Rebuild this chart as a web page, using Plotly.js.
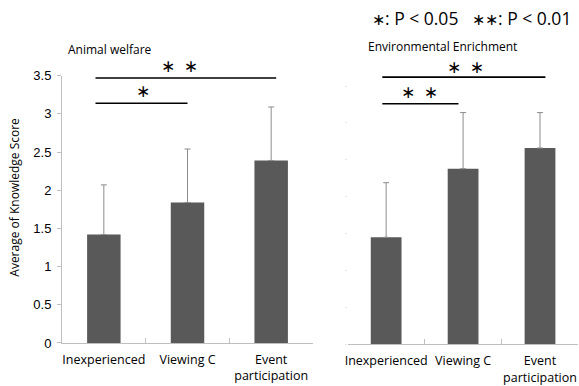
<!DOCTYPE html>
<html><head><meta charset="utf-8">
<script src="https://cdn.plot.ly/plotly-3.0.1.min.js"></script>
<style>html,body{margin:0;padding:0;background:#fff}#c{width:579px;height:386px}</style>
</head><body><div id="c"></div>
<script>
const categories = ['Inexperienced', 'Viewing C', 'Event<br>participation'];
const welfareMean = [1.42, 1.84, 2.39];
const welfareSD = [0.65, 0.70, 0.70];
const enrichMean = [1.45, 2.38, 2.66];
const enrichSD = [0.74, 0.76, 0.48];
const yTicks = [0, 0.5, 1, 1.5, 2, 2.5, 3, 3.5];
const yTickText = ['0', '0.5', '1', '1.5', '2', '2.5', '3', '3.5'];
// significance brackets: [from category idx, to category idx, y level, star label, star x, star y]
const sigWelfare = [[-0.1, 2.06, 3.47, '∗\u2002∗', 0.9, 3.63], [-0.1, 1.0, 3.14, '∗', 0.47, 3.30]];
const sigEnrich = [[-0.05, 2.07, 3.62, '∗\u2002∗', 1.03, 3.76], [-0.05, 0.94, 3.26, '∗\u2002∗', 0.43, 3.42]];

const barColor = '#595959';
const axisGrey = '#bfbfbf';
const yMaxL = 3.5, yMaxR = 3.8;
function barTrace(y, sd, xa, ya) {
  return {type: 'bar', x: categories, y: y, xaxis: xa, yaxis: ya,
    marker: {color: barColor}, width: 0.4,
    error_y: {type: 'data', array: sd, arrayminus: sd.map(() => 0), symmetric: false,
      color: '#8c8c8c', thickness: 1, width: 3}};
}
const data = [barTrace(welfareMean, welfareSD, 'x', 'y'), barTrace(enrichMean, enrichSD, 'x2', 'y2')];

const shapes = [], annotations = [];
function addSig(list, xr, yr, yMax) {
  list.forEach(s => {
    shapes.push({type: 'line', xref: xr, yref: yr + ' domain', x0: s[0], x1: s[1], y0: s[2] / yMax, y1: s[2] / yMax,
      line: {color: '#000', width: 1.6}});
    annotations.push({xref: xr, yref: yr + ' domain', x: s[4], y: s[5] / yMax, text: s[3], showarrow: false,
      xanchor: 'center', yanchor: 'middle',
      font: {family: 'DejaVu Sans', size: 17, color: '#000'}});
  });
}
addSig(sigWelfare, 'x', 'y', yMaxL);
addSig(sigEnrich, 'x2', 'y2', yMaxR);
const txt = {family: 'Open Sans', size: 12, color: '#000'};
annotations.push({xref: 'paper', yref: 'paper', x: 0.114, y: 0.873, xanchor: 'left', yanchor: 'middle', text: 'Animal welfare',
  showarrow: false, font: txt});
annotations.push({xref: 'paper', yref: 'paper', x: 0.632, y: 0.879, xanchor: 'left', yanchor: 'middle', text: 'Environmental Enrichment',
  showarrow: false, font: txt});
annotations.push({xref: 'paper', yref: 'paper', x: 0.0259, y: 0.4904, xanchor: 'center', yanchor: 'middle', textangle: -90,
  text: 'Average of Knowledge Score', showarrow: false, font: txt});
annotations.push({xref: 'paper', yref: 'paper', x: 0.716, y: 0.953, xanchor: 'center', yanchor: 'middle',
  text: '<span style="font-size:16px">∗</span>: P < 0.05', showarrow: false, font: {family: 'Open Sans', size: 17.5, color: '#000'}});
annotations.push({xref: 'paper', yref: 'paper', x: 0.9, y: 0.953, xanchor: 'center', yanchor: 'middle',
  text: '<span style="font-size:16px">∗∗</span>: P < 0.01', showarrow: false, font: {family: 'Open Sans', size: 17.5, color: '#000'}});

const xCommon = {type: 'category', showline: true, linecolor: axisGrey, linewidth: 1, tickangle: 0,
  ticks: 'inside', tickson: 'boundaries', ticklen: 5, tickcolor: axisGrey, showgrid: false, ticklabelstandoff: 5,
  tickfont: {family: 'Open Sans', size: 12.5, color: '#000'}, fixedrange: true, range: [-0.5, 2.5]};
const layout = {
  width: 579, height: 386, margin: {l: 0, r: 0, t: 0, b: 0}, showlegend: false,
  paper_bgcolor: '#fff', plot_bgcolor: '#fff', bargap: 0.6,
  xaxis: Object.assign({}, xCommon, {domain: [0.1071, 0.5406], anchor: 'y'}),
  xaxis2: Object.assign({}, xCommon, {domain: [0.6005, 0.9991], anchor: 'y2'}),
  yaxis: {domain: [0.1114, 0.8039], range: [0, yMaxL], anchor: 'x', showline: true, linecolor: axisGrey,
    ticks: 'outside', ticklen: 4, tickcolor: axisGrey, showgrid: false, zeroline: false, ticklabelstandoff: 3,
    tickvals: yTicks, ticktext: yTickText,
    tickfont: {family: 'Liberation Sans', size: 13, color: '#000'}},
  yaxis2: {domain: [0.108, 0.8345], range: [0, yMaxR], anchor: 'x2', showline: false,
    ticks: 'outside', ticklen: 2, tickcolor: '#e6e6e6', showgrid: false, zeroline: false,
    tickvals: yTicks, showticklabels: false},
  shapes: shapes, annotations: annotations
};
Plotly.newPlot('c', data, layout, {staticPlot: true});
</script></body></html>
